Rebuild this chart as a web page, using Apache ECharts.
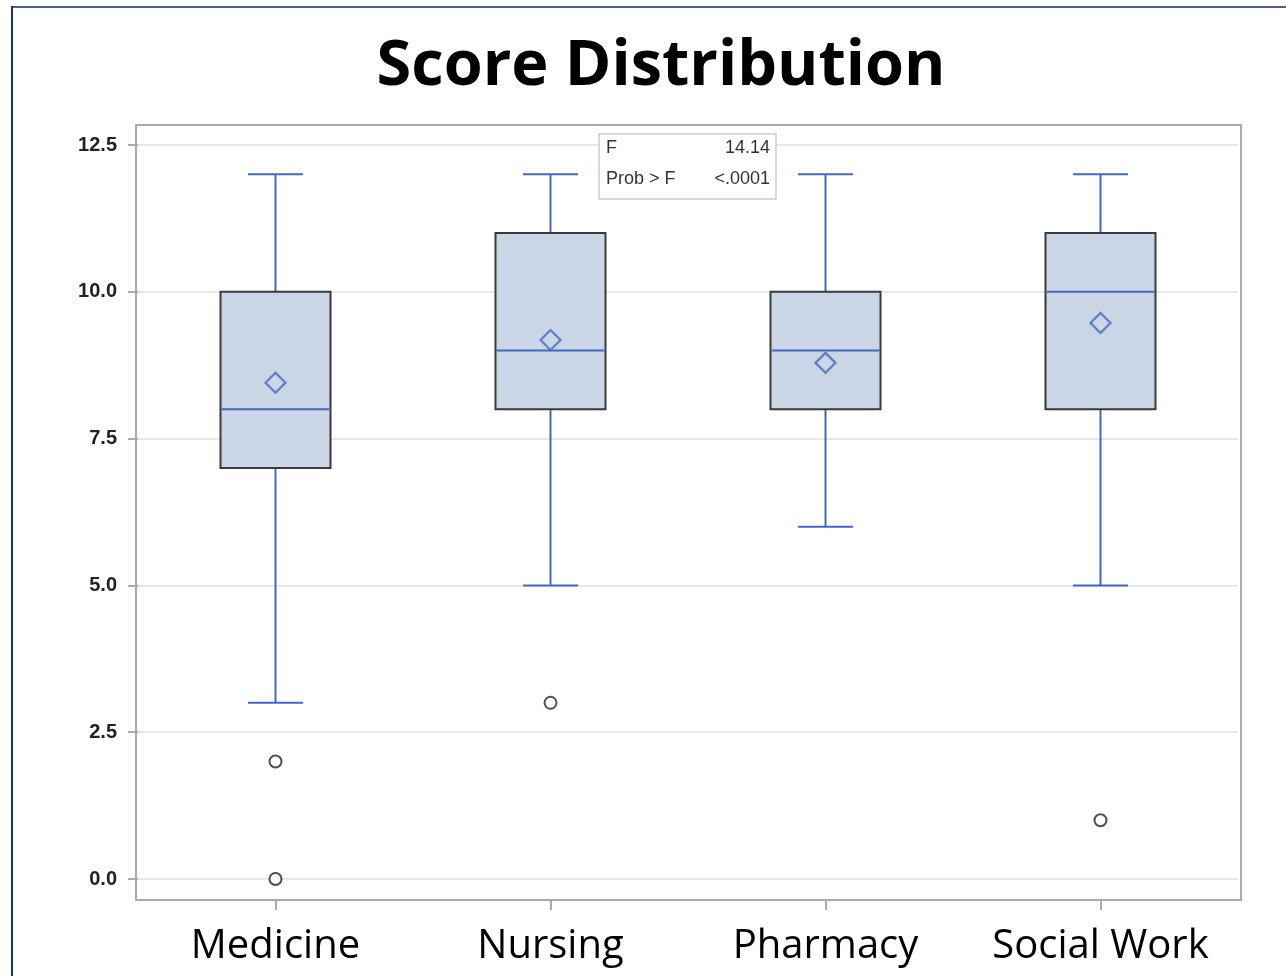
<!DOCTYPE html>
<html>
<head>
<meta charset="utf-8">
<title>Score Distribution</title>
<script src="https://cdn.jsdelivr.net/npm/echarts@6/dist/echarts.min.js"></script>
<style>
  html, body { margin: 0; padding: 0; background: #ffffff; }
  #chart { width: 1286px; height: 976px; }
</style>
</head>
<body>
<div id="chart"></div>
<script>
// Groups on the x axis
const categories = ['Medicine', 'Nursing', 'Pharmacy', 'Social Work'];

// Five-number summaries per group: lower whisker, Q1, median, Q3, upper whisker
const whiskerLow  = [3, 5, 6, 5];
const quartile1   = [7, 8, 8, 8];
const medians     = [8, 9, 9, 10];
const quartile3   = [10, 11, 10, 11];
const whiskerHigh = [12, 12, 12, 12];

// Group means (diamond markers)
const means = [8.45, 9.18, 8.79, 9.47];

// Outlying observations: [group index, score]
const outliers = [[0, 2], [0, 0], [1, 3], [3, 1]];

// Y axis ticks
const yTicks = [0, 2.5, 5, 7.5, 10, 12.5];

// ANOVA inset text
const statLabels = ['F', 'Prob > F'];
const statValues = ['14.14', '<.0001'];

const boxData = categories.map((c, i) =>
  [i, whiskerLow[i], quartile1[i], medians[i], quartile3[i], whiskerHigh[i]]);
const meanData = categories.map((c, i) => [i, means[i]]);

const BLUE = '#4169c1';
const BOX_FILL = '#cad6e6';
const BOX_EDGE = '#3a3a3a';
const AXIS_GRAY = '#a9abae';
const INSET_FONT = '18px "Liberation Sans", sans-serif';

function renderBox(params, api) {
  const xi = api.value(0);
  const pLow = api.coord([xi, api.value(1)]);
  const pQ1 = api.coord([xi, api.value(2)]);
  const pMed = api.coord([xi, api.value(3)]);
  const pQ3 = api.coord([xi, api.value(4)]);
  const pHigh = api.coord([xi, api.value(5)]);
  const band = api.size([1, 0])[0];
  const cx = pMed[0];
  const boxHalf = band * 0.2;
  const capHalf = band * 0.1;
  const lineStyle = { stroke: BLUE, lineWidth: 2 };
  return {
    type: 'group',
    children: [
      { type: 'line', shape: { x1: cx, y1: pQ1[1], x2: cx, y2: pLow[1] }, style: lineStyle },
      { type: 'line', shape: { x1: cx - capHalf, y1: pLow[1], x2: cx + capHalf, y2: pLow[1] }, style: lineStyle },
      { type: 'line', shape: { x1: cx, y1: pQ3[1], x2: cx, y2: pHigh[1] }, style: lineStyle },
      { type: 'line', shape: { x1: cx - capHalf, y1: pHigh[1], x2: cx + capHalf, y2: pHigh[1] }, style: lineStyle },
      { type: 'rect', shape: { x: cx - boxHalf, y: pQ3[1], width: boxHalf * 2, height: pQ1[1] - pQ3[1] },
        style: { fill: BOX_FILL, stroke: BOX_EDGE, lineWidth: 2 } },
      { type: 'line', shape: { x1: cx - boxHalf + 1, y1: pMed[1], x2: cx + boxHalf - 1, y2: pMed[1] }, style: lineStyle }
    ]
  };
}

const chart = echarts.init(document.getElementById('chart'), null, { renderer: 'canvas' });

const option = {
  backgroundColor: '#ffffff',
  animation: false,
  title: {
    text: 'Score Distribution',
    left: 656,
    top: 31,
    textAlign: 'center',
    textStyle: { fontFamily: 'Open Sans', fontWeight: 'bold', fontSize: 63, color: '#000000' }
  },
  grid: { left: 138, right: 48, top: 145, bottom: 97 },
  xAxis: {
    type: 'category',
    data: categories,
    offset: 21,
    boundaryGap: true,
    axisLine: { show: true, onZero: false, lineStyle: { color: AXIS_GRAY, width: 2 } },
    axisTick: { show: true, interval: 0, alignWithLabel: true, length: 10, lineStyle: { color: AXIS_GRAY, width: 2 } },
    axisLabel: { interval: 0, hideOverlap: false, margin: 27, fontFamily: 'Open Sans', fontSize: 40, color: '#000000' },
    splitLine: { show: false }
  },
  yAxis: {
    type: 'value',
    min: yTicks[0],
    max: yTicks[yTicks.length - 1],
    interval: 2.5,
    axisLine: { show: false },
    axisTick: { show: true, length: 10, lineStyle: { color: AXIS_GRAY, width: 2 } },
    axisLabel: {
      margin: 21,
      fontFamily: 'Liberation Sans Narrow, Liberation Sans, sans-serif',
      fontWeight: 'bold',
      fontSize: 20,
      color: '#222222',
      formatter: v => v.toFixed(1)
    },
    splitLine: { show: true, lineStyle: { color: '#e8e8e8', width: 2 } }
  },
  graphic: [
    // outer frame
    { type: 'line', shape: { x1: 12, y1: 7, x2: 1290, y2: 7 }, style: { stroke: '#4d5f99', lineWidth: 2 }, z: 100 },
    { type: 'line', shape: { x1: 12, y1: 6, x2: 12, y2: 990 }, style: { stroke: '#1e2d6b', lineWidth: 2 }, z: 100 },
    // plot area border
    { type: 'rect', shape: { x: 136, y: 125, width: 1105, height: 775 },
      style: { fill: null, stroke: AXIS_GRAY, lineWidth: 2 }, z: 100 },
    // ANOVA inset
    { type: 'rect', shape: { x: 599, y: 134, width: 177, height: 65 },
      style: { fill: '#ffffff', stroke: '#cccccc', lineWidth: 1.5 }, z: 110 },
    { type: 'text', x: 606, y: 148, z: 111,
      style: { text: statLabels[0], font: INSET_FONT, fill: '#333333', verticalAlign: 'middle' } },
    { type: 'text', x: 770, y: 148, z: 111,
      style: { text: statValues[0], font: INSET_FONT, fill: '#333333', align: 'right', verticalAlign: 'middle' } },
    { type: 'text', x: 606, y: 179, z: 111,
      style: { text: statLabels[1], font: INSET_FONT, fill: '#333333', verticalAlign: 'middle' } },
    { type: 'text', x: 770, y: 179, z: 111,
      style: { text: statValues[1], font: INSET_FONT, fill: '#333333', align: 'right', verticalAlign: 'middle' } }
  ],
  series: [
    {
      name: 'Box',
      type: 'custom',
      renderItem: renderBox,
      data: boxData,
      encode: { x: 0, y: [1, 2, 3, 4, 5] },
      z: 3
    },
    {
      name: 'Mean',
      type: 'scatter',
      data: meanData,
      symbol: 'diamond',
      symbolSize: 20,
      itemStyle: { color: BOX_FILL, borderColor: BLUE, borderWidth: 2.2 },
      z: 5
    },
    {
      name: 'Outliers',
      type: 'scatter',
      data: outliers,
      symbol: 'circle',
      symbolSize: 12,
      itemStyle: { color: '#ffffff', borderColor: '#222222', borderWidth: 2 },
      z: 5
    }
  ]
};

chart.setOption(option);
</script>
</body>
</html>
